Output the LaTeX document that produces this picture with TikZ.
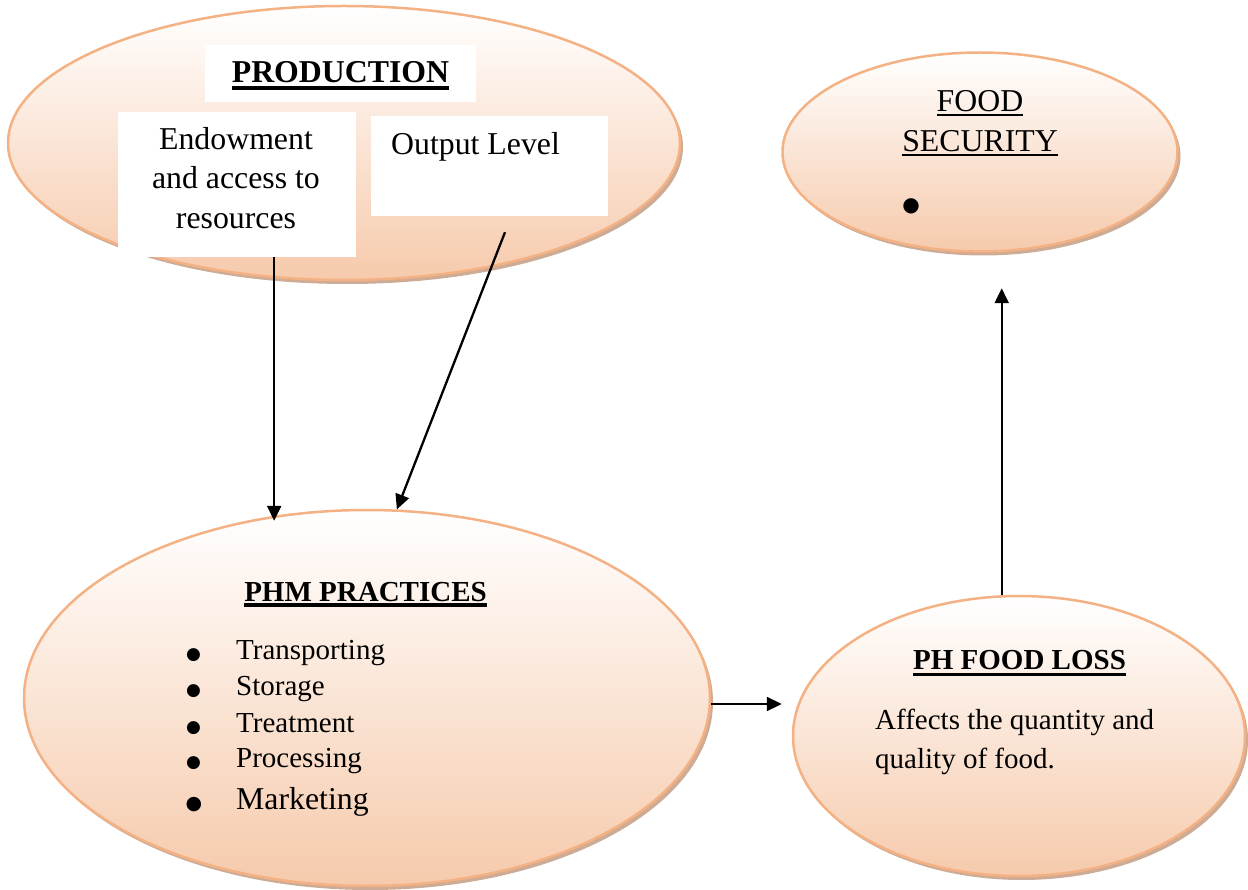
\documentclass[tikz,border=0pt]{standalone}
\usepackage{fontspec}
\setmainfont{Liberation Serif}
\newfontfamily\dotfont{DejaVu Sans}
\usetikzlibrary{shapes.geometric,shadows,arrows.meta}

\definecolor{peachedge}{RGB}{244,177,131}
\definecolor{peachfill}{RGB}{246,202,172}
\definecolor{peachshadow}{RGB}{196,156,130}

% underline drawn as a rule: #1 depth below baseline, #2 thickness, #3 text
\newcommand{\ulbar}[3]{\setbox0=\hbox{#3}\rlap{\rule[-#1]{\wd0}{#2}}\box0}
% round list bullet of size #1
\newcommand{\lbullet}[1]{{\fontsize{#1}{#1}\dotfont ●}}

\tikzset{
  bubble/.style={ellipse, draw=peachedge, line width=2.5pt,
    top color=white, bottom color=peachfill, inner sep=0pt,
    drop shadow={shadow xshift=3pt, shadow yshift=-4pt,
      fill=peachshadow, opacity=0.85}},
  whitebox/.style={rectangle, fill=white, inner sep=0pt},
  bigtxt/.style={inner sep=0pt, anchor=base, font=\fontsize{31.8}{40}\selectfont},
  smalltxt/.style={inner sep=0pt, anchor=base, font=\fontsize{29}{36}\selectfont},
  conn/.style={line width=2.3pt, -{Triangle[length=15pt,width=14pt]}}
}

\begin{document}
\begin{tikzpicture}[x=1pt,y=-1pt]
\useasboundingbox (0,0) rectangle (1248,890);

% the four ellipses
\node[bubble, minimum width=672pt, minimum height=274pt] (prod) at (344,143) {};
\node[bubble, minimum width=395pt, minimum height=199pt] (fs)   at (980,152) {};
\node[bubble, minimum width=686pt, minimum height=376pt] (phm)  at (367,698) {};
\node[bubble, minimum width=452pt, minimum height=280pt] (fl)   at (1019,736) {};

% white text boxes inside the production ellipse
\node[whitebox, minimum width=271pt, minimum height=57pt]  (prodhead) at (340.5,73.5) {};
\node[whitebox, minimum width=238pt, minimum height=145pt] (endow)    at (237,184.5) {};
\node[whitebox, minimum width=237pt, minimum height=100pt] (out)      at (489.5,166) {};

% production
\node[bigtxt] (prodlbl) at (340.5,83) {\bfseries\ulbar{7pt}{4pt}{PRODUCTION}};
\node[bigtxt] (endow1) at (236,150) {Endowment};
\node[bigtxt] (endow2) at (236,189) {and access to};
\node[bigtxt] (endow3) at (236,229) {resources};
\node[bigtxt, anchor=base west] (outlbl) at (391,155) {Output Level};

% food security
\node[bigtxt] (fs1) at (980,112) {\ulbar{4.5pt}{2.5pt}{FOOD}};
\node[bigtxt] (fs2) at (980,152) {\ulbar{4.5pt}{2.5pt}{SECURITY}};
\node[inner sep=0pt] (fsbul) at (911,206) {\lbullet{20}};

% PHM practices
\node[smalltxt] (phmlbl) at (365.5,601) {\bfseries\ulbar{5.5pt}{3.5pt}{PHM PRACTICES}};
\node[smalltxt, anchor=base west] (li1) at (186,659) {\makebox[50pt][l]{\lbullet{17}}Transporting};
\node[smalltxt, anchor=base west] (li2) at (186,695) {\makebox[50pt][l]{\lbullet{17}}Storage};
\node[smalltxt, anchor=base west] (li3) at (186,732) {\makebox[50pt][l]{\lbullet{17}}Treatment};
\node[smalltxt, anchor=base west] (li4) at (186,767) {\makebox[50pt][l]{\lbullet{17}}Processing};
\node[bigtxt, anchor=base west]   (li5) at (185.5,809) {\makebox[50.5pt][l]{\lbullet{19}}Marketing};

% PH food loss
\node[smalltxt] (fllbl) at (1019.5,669) {\bfseries\ulbar{7pt}{3.5pt}{PH FOOD LOSS}};
\node[smalltxt, anchor=base west] (fl1) at (875,729) {Affects the quantity and};
\node[smalltxt, anchor=base west] (fl2) at (875,768) {quality of food.};

% connectors
\draw[conn, shorten >=-5pt] (endow.south -| phm.117) -- (phm.117);
\draw[conn] ([xshift=15.5pt,yshift=-16pt]out.south) -- (phm.81);
\draw[conn, shorten >=10pt] (phm.-1) -- (phm.-1 -| fl.west);
\draw[conn, shorten >=35.5pt] (fl.97) -- (fl.97 |- fs.south);
\end{tikzpicture}
\end{document}
